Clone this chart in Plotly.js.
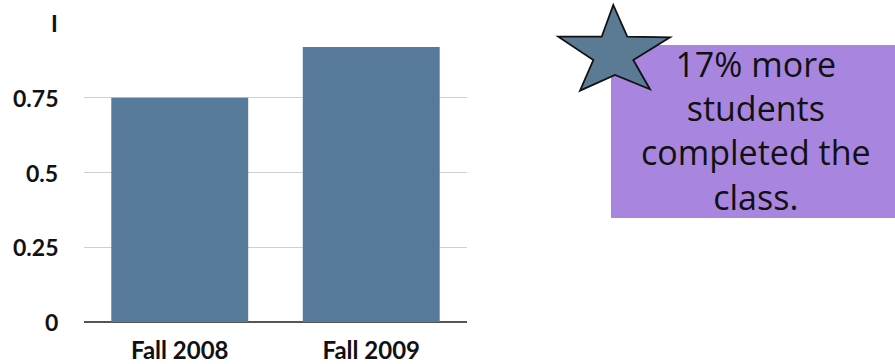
<!DOCTYPE html>
<html>
<head>
<meta charset="utf-8">
<script src="https://cdn.plot.ly/plotly-3.0.1.min.js"></script>
<style>html,body{margin:0;padding:0;background:#fff;}#chart{width:895px;height:364px;}</style>
</head>
<body>
<div id="chart"></div>
<script>
const categories = ["Fall 2008", "Fall 2009"];
const completionRate = [0.75, 0.92];
const yTickValues = [0, 0.25, 0.5, 0.75, 1];
const yTickLabels = ["0", "0.25", "0.5", "0.75", "I"];
const calloutLines = ["17% more", "students", "completed the", "class."];

const W = 895, H = 364;
const M = {l: 84, r: 428, t: 23, b: 42};
const PW = W - M.l - M.r, PH = H - M.t - M.b;
const px = x => (x - M.l) / PW;
const py = y => (H - M.b - y) / PH;

const starPts = [[613.3,5],[627.3,36.7],[670,37.3],[633.3,60],[650,89.3],[615,75],[580,90.7],[593.3,60],[558.3,36.7],[601.7,36.7]];
const starPath = starPts.map((p,i)=>(i?'L':'M')+px(p[0]).toFixed(4)+','+py(p[1]).toFixed(4)).join(' ')+' Z';

const data = [{
  type: 'bar',
  x: categories,
  y: completionRate,
  marker: {color: '#587a9a', line: {width: 0}},
  hoverinfo: 'x+y'
}];

const yLabelAnnotations = yTickValues.map((v, i) => ({
  xref: 'paper', yref: 'y',
  x: px(60), y: v,
  xanchor: 'right', yanchor: 'middle',
  text: '<b>' + yTickLabels[i] + '</b>',
  showarrow: false,
  font: {size: 23, family: 'Lato, sans-serif', weight: 'bold', color: '#111'}
}));

const layout = {
  width: W, height: H,
  margin: M,
  paper_bgcolor: '#ffffff',
  plot_bgcolor: '#ffffff',
  showlegend: false,
  bargap: 0.285,
  font: {family: 'Lato, "Open Sans", sans-serif', color: '#111'},
  xaxis: {
    type: 'category',
    showgrid: false,
    ticks: '',
    showline: false,
    zeroline: false,
    tickfont: {size: 24, family: 'Lato, sans-serif', weight: 'bold', color: '#111'},
    ticklabelstandoff: 12
  },
  yaxis: {
    range: [0, 1],
    tickmode: 'array',
    tickvals: yTickValues,
    ticktext: yTickLabels,
    showticklabels: false,
    showgrid: true,
    gridcolor: '#cfcfcf',
    gridwidth: 1,
    zeroline: true,
    zerolinecolor: '#555555',
    zerolinewidth: 1.2,
    ticks: ''
  },
  shapes: [
    {type: 'rect', xref: 'paper', yref: 'paper', x0: px(611), x1: px(896), y0: py(218), y1: py(45),
     fillcolor: '#a886df', line: {width: 0}, layer: 'above'},
    {type: 'path', xref: 'paper', yref: 'paper', path: starPath,
     fillcolor: '#5b7a94', line: {color: '#111', width: 1.8}, layer: 'above'}
  ],
  annotations: yLabelAnnotations.concat([{
    xref: 'paper', yref: 'paper',
    x: px(756), y: py(130),
    xanchor: 'center', yanchor: 'middle',
    text: calloutLines.join('<br>'),
    showarrow: false,
    align: 'center',
    font: {size: 34, family: '"Open Sans", sans-serif', color: '#111'}
  }])
};

Plotly.newPlot('chart', data, layout, {displayModeBar: false, staticPlot: true});
</script>
</body>
</html>
